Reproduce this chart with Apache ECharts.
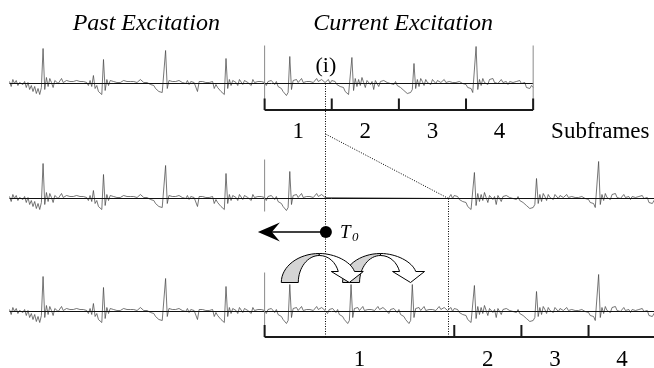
<!DOCTYPE html>
<html>
<head>
<meta charset="utf-8">
<script src="https://cdn.jsdelivr.net/npm/echarts@6/dist/echarts.min.js"></script>
<style>
  html, body { margin: 0; padding: 0; background: #fff; }
  #main { width: 654px; height: 368px; }
</style>
</head>
<body>
<div id="main"></div>
<script>
var pastStart = -152;
var excitation = [
  2, -3, 4, 0, 3, -2, 1, 3, -1, 2, -4, 1, -6, -2, -8, -3, -10, -5, -11, -4,
  35, -6, 6, -3, 5, 1, -4, 3, 4, 0, 2, 5, 1, 2, 3, 1, 2, 4, 2, 1,
  3, 1, 2, 4, 2, 0, 1, -2, 3, -3, 8, -5, -2, -8, -6, -11,
  24, -7, 4, -2, 3, 1, 2, 3, 1, 2, 1, 2, 3, 4, 2, 1, 2, 3, 2, 2, 1, 2, 4, 2, 1, 2, 1, 0, -1, -3, -2, -5, -6, -8, -10, -9, -11,
  33, -5, 3, 1, 2, 4, 2, 1, 3, 2, 1, 2, 0, 3, -1, 2, 4, 1, 2, -8, 2, 1, 2, 0, 1, 2, 1, 0, 2, -5, -1, -4, -6, -8, -7, -11,
  25, -5, 4, -2, 3, 5, 1, -2, 4, 2, -1, 3, 5, 1, 2, -2, 4, 1, 3, 2, 0, 2, 1,
  1, -2, 2, 0, 3, 1, -1, 2, -3, -2, -5, -8, -6, -12, -9,
  27, -6, 3, 2, 4, 1, 2, 5, 1, 3, 2, 0, 2, 4, 1, 3, 5, 2, 1, 4, 3, 1, 2, 4, 0, 3, 1, 2, -1, 1, -3, -5, -4, -8, -6, -11, -9,
  26, -7, 5, -3, 4, -2, 6, 1, -4, 3, 5, -1, 2, -6, 3, 1, -3, 2, 1, 3, 2, 1, 2, 0, 1, -1, 2, -2, -1, -4, -3, -7, -5, -10, -8, -9, -6,
  20, -5, 4, -3, 5, 2, -2, 4, 1, 3, -1, 4, 2, 0, 3, 5, 1, 2, 4, 1, 3, 2, 0, 1, 2, 1, 0, 2, 1, 0, -2, -1, -4, -6, -5, -9, -7,
  37, -6, 4, -2, 5, 1, 3, -1, 4, 2, 5, 1, 3, 0, 2, 4, 1, 3, 2, -1, 2, 3, 1, 0, 2, 1, 3, 0, -2, 1, -4, -3, -5, -2, -4
];
var frameLen = 160;
var T0 = 36.5;            // pitch lag, also the split point (i)
var shift = 73;           // how far the rest of the frame is pushed
var axisMax = 232;

var row1Ticks = [0, 40, 80, 120, 160];
var row3Ticks = [0, 113, 153, 193];
var subframeLabels = ['1', '2', '3', '4'];
var row1LabelX = [20, 60, 100, 140];
var row3LabelX = [56.5, 133, 173, 213];
var titles = ['Past Excitation', 'Current Excitation'];
var titleX = [-70.5, 82.5];
var arrowStarts = [15, 51.5];

function amp(k) { return excitation[k - pastStart]; }

// row 1: as is
var row1 = [];
for (var k = pastStart; k <= frameLen; k++) row1.push([k, amp(k)]);
// row 2: cut at (i), rest moved right
var row2 = [];
for (k = pastStart; k < T0; k++) row2.push([k, amp(k)]);
row2.push([T0, 0], [T0 + shift, 0]);
for (k = Math.ceil(T0); k <= frameLen; k++) row2.push([k + shift, amp(k)]);
// row 3: gap filled by repeating the last pitch period
var row3 = [];
for (k = pastStart; k < T0; k++) row3.push([k, amp(k)]);
for (var r = 1; r <= 2; r++) {
  for (k = 0; k < T0; k++) row3.push([k + r * T0, amp(k)]);
}
for (k = Math.ceil(T0); k <= frameLen; k++) row3.push([k + shift, amp(k)]);

var rowTop = [43.5, 158.5, 271.5];
var serif = '"Liberation Serif", "Times New Roman", serif';

function seg(g, data, color, width, z) {
  return {
    type: 'line', xAxisIndex: g, yAxisIndex: g, data: data,
    symbol: 'none', silent: true, z: z || 2,
    lineStyle: { color: color, width: width }
  };
}

var series = [
  seg(0, row1, '#4a4a4a', 0.75, 2),
  seg(1, row2, '#4a4a4a', 0.75, 2),
  seg(2, row3, '#4a4a4a', 0.75, 2),
  seg(0, [[pastStart, 0], [frameLen, 0]], '#111', 1, 3),
  seg(1, [[pastStart, 0], [axisMax, 0]], '#111', 1, 3),
  seg(2, [[pastStart, 0], [axisMax, 0]], '#111', 1, 3),
  // frame borders
  seg(0, [[0, 38], [0, -26.5]], '#8a8a8a', 1, 3),
  seg(0, [[frameLen, 38], [frameLen, -26.5]], '#8a8a8a', 1, 3),
  seg(1, [[0, 39], [0, -13]], '#8a8a8a', 1, 3),
  seg(2, [[0, 39], [0, -25.5]], '#8a8a8a', 1, 3),
  // subframe brackets
  seg(0, [[row1Ticks[0], -26.5], [row1Ticks[row1Ticks.length - 1], -26.5]], '#1a1a1a', 2, 4),
  seg(2, [[row3Ticks[0], -25.5], [axisMax, -25.5]], '#1a1a1a', 2, 4)
];
row1Ticks.forEach(function (t) { series.push(seg(0, [[t, -15], [t, -26.5]], '#1a1a1a', 2, 4)); });
row3Ticks.forEach(function (t) { series.push(seg(2, [[t, -13.5], [t, -25.5]], '#1a1a1a', 2, 4)); });

// curved arrows copying one pitch period forward
series.push({
  type: 'custom', xAxisIndex: 2, yAxisIndex: 2, clip: false, z: 6, silent: true,
  data: arrowStarts.slice().reverse().map(function (s) { return [s, 29]; }),
  renderItem: function (params, api) {
    var o = api.coord([api.value(0), api.value(1)]);
    return {
      type: 'group', x: o[0], y: o[1],
      children: [{
        type: 'path',
        shape: { pathData: 'M-8.5,0 C-8.5,-16 8.5,-29 29.5,-29 L29.5,-27 C17.9,-27 8.5,-14.9 8.5,0 Z' },
        style: { fill: '#d4d4d4', stroke: '#000', lineWidth: 1 }
      }, {
        type: 'path',
        shape: { pathData: 'M29.5,-29 C45,-29 61,-21 64.7,-11 L73.5,-11 L59.5,0 L41.5,-11 L48.5,-11 C46,-20 39,-27 29.5,-27 Z' },
        style: { fill: '#fff', stroke: '#000', lineWidth: 1 }
      }]
    };
  }
});

var option = {
  animation: false,
  backgroundColor: '#fff',
  grid: rowTop.map(function (t) { return { left: 9.5, width: 645.5, top: t, height: 80 }; }),
  xAxis: [0, 1, 2].map(function (i) { return { type: 'value', gridIndex: i, min: pastStart, max: axisMax, show: false }; }),
  yAxis: [0, 1, 2].map(function (i) { return { type: 'value', gridIndex: i, min: -40, max: 40, show: false }; }),
  series: series
};

var chart = echarts.init(document.getElementById('main'));
chart.setOption(option);

function px(g, x, y) { return chart.convertToPixel({ gridIndex: g }, [x, y]); }
function txt(p, text, font, align) {
  return { type: 'text', x: p[0], y: p[1], silent: true, z: 10,
    style: { text: text, font: font, fill: '#000', align: align || 'center', verticalAlign: 'middle' } };
}
function crisp(v) { return Math.round(v - 0.5) + 0.5; }
function dotted(a, b) {
  return { type: 'line', silent: true, z: 5,
    shape: { x1: crisp(a[0]), y1: a[1], x2: crisp(b[0]), y2: b[1] },
    style: { stroke: '#000', lineWidth: 1, lineDash: [1, 1.5] } };
}

var g = [];
titles.forEach(function (t, i) { g.push(txt(px(0, titleX[i], 59.5), t, 'italic 24px ' + serif)); });
g.push(txt(px(0, T0, 17.5), '(i)', '22px ' + serif));
subframeLabels.forEach(function (s, i) {
  g.push(txt(px(0, row1LabelX[i], -48.7), s, '23px ' + serif));
  g.push(txt(px(2, row3LabelX[i], -48.5), s, '23px ' + serif));
});
g.push(txt(px(0, 170.7, -48.7), 'Subframes', '23px ' + serif, 'left'));

// split marks
g.push(dotted(px(0, T0, 0), px(2, T0, -25.5)));
g.push(dotted(px(0, T0, -50.5), px(1, T0 + shift, 0)));
g.push(dotted(px(1, T0 + shift, 0), px(2, T0 + shift, -25.5)));

// T0 arrow
var d = px(1, T0, -33.5);
g.push({ type: 'line', silent: true, z: 7, shape: { x1: d[0], y1: d[1], x2: d[0] - 56, y2: d[1] },
  style: { stroke: '#000', lineWidth: 1.5 } });
g.push({ type: 'polygon', silent: true, z: 7,
  shape: { points: [[d[0] - 68, d[1]], [d[0] - 46, d[1] - 9.5], [d[0] - 54, d[1]], [d[0] - 46, d[1] + 9.5]] },
  style: { fill: '#000' } });
g.push({ type: 'circle', silent: true, z: 8, shape: { cx: d[0], cy: d[1], r: 6 }, style: { fill: '#000' } });
g.push(txt([d[0] + 14, d[1] + 0.6], 'T', 'italic 19px ' + serif, 'left'));
g.push(txt([d[0] + 26, d[1] + 5.6], '0', 'italic 13px ' + serif, 'left'));

chart.setOption({ graphic: g });
</script>
</body>
</html>
